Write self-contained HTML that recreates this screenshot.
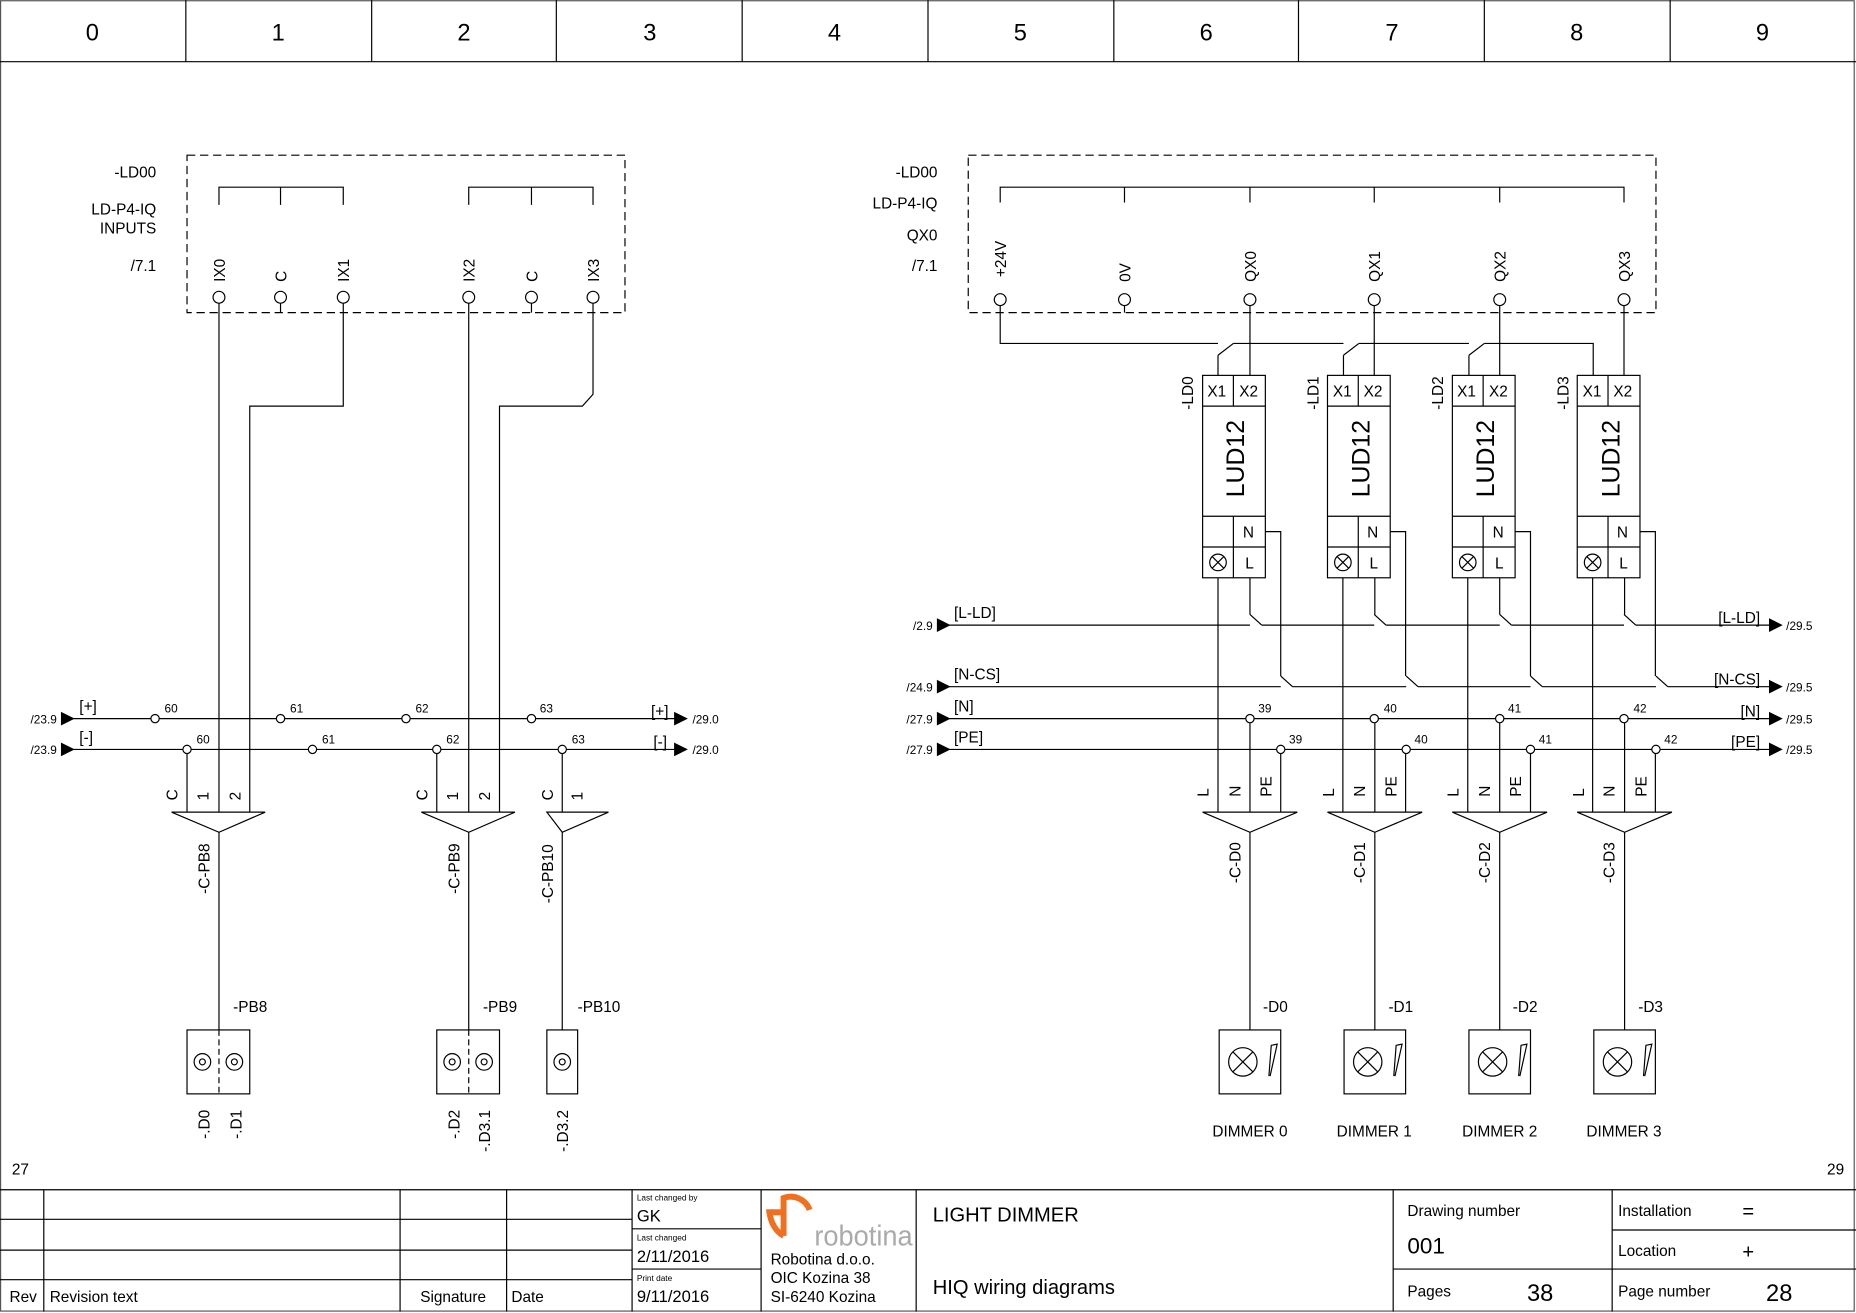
<!DOCTYPE html>
<html><head><meta charset="utf-8"><style>
html,body{margin:0;padding:0;background:#fff}
svg{display:block}
text{font-family:"Liberation Sans",sans-serif;fill:#000}
</style></head><body>
<svg width="1856" height="1313" viewBox="0 0 1568 1109" xmlns="http://www.w3.org/2000/svg">
<g fill="none" stroke="#000" stroke-width="1">
<rect x="0.5" y="0.5" width="1566" height="1107" stroke="#555"/>
<line x1="0" y1="52" x2="1568" y2="52"/>
<path d="M157 0V52M314 0V52M470 0V52M627 0V52M784 0V52M941 0V52M1097 0V52M1254 0V52M1411 0V52"/>
<path d="M0 1005H1568M37 1005V1108M338 1005V1108M428 1005V1108M534 1005V1108M643 1005V1108M774 1005V1108M1177 1005V1108M1362 1005V1108"/>
<path d="M0 1030H534M0 1056H534M0 1081H534M534 1038H643M534 1072H643M1177 1072H1568M1362 1039H1568"/>
<rect x="158" y="131" width="370" height="133" stroke-dasharray="7,4"/>
<path d="M185 173V158H290V173M237 158V173M396 173V158H501V173M449 158V173"/>
<g>
<circle cx="185" cy="251" r="5"/><circle cx="237" cy="251" r="5"/><circle cx="290" cy="251" r="5"/>
<circle cx="396" cy="251" r="5"/><circle cx="449" cy="251" r="5"/><circle cx="501" cy="251" r="5"/>
</g>
<path d="M237 256V264M449 256V264"/>
<path d="M185 256V686M290 256V343H211V686M396 256V686M501 256V333L492 343H422V686"/>
<path d="M62 607H570M62 633H570"/>
<path d="M158 633V686M369 633V686M475 633V686"/>
<path d="M145 686H224L185 703ZM356 686H435L396 703ZM462 686H514L475 703Z" fill="#fff"/>
<path d="M185 703V870M396 703V870M475 703V870"/>
<rect x="158" y="870" width="53" height="54"/>
<rect x="369" y="870" width="53" height="54"/>
<rect x="462" y="870" width="26" height="54"/>
<path d="M185 870V924M396 870V924" stroke-dasharray="5,3"/>
<circle cx="171" cy="897" r="7"/><circle cx="171" cy="897" r="2.5"/>
<circle cx="198" cy="897" r="7"/><circle cx="198" cy="897" r="2.5"/>
<circle cx="382" cy="897" r="7"/><circle cx="382" cy="897" r="2.5"/>
<circle cx="409" cy="897" r="7"/><circle cx="409" cy="897" r="2.5"/>
<circle cx="475" cy="897" r="7"/><circle cx="475" cy="897" r="2.5"/>
<rect x="818" y="131" width="581" height="133" stroke-dasharray="7,4"/>
<path d="M845 171V158H1372V171M950 158V171M1056 158V171M1161 158V171M1267 158V171"/>
<circle cx="845" cy="253" r="5"/><circle cx="950" cy="253" r="5"/><circle cx="1056" cy="253" r="5"/>
<circle cx="1161" cy="253" r="5"/><circle cx="1267" cy="253" r="5"/><circle cx="1372" cy="253" r="5"/>
<path d="M950 258V264"/>
<path d="M845 258V290H1029M1042 290H1135M1148 290H1241M1254 290H1346V317"/>
<path d="M1029 300L1042 290M1135 300L1148 290M1241 300L1254 290"/>
<path d="M1029 300V317M1135 300V317M1241 300V317"/>
<path d="M1056 258V317M1161 258V317M1267 258V317M1372 258V317"/>
<path d="M802 528H1056M1066 528H1161M1171 528H1267M1277 528H1372M1382 528H1495"/>
<path d="M802 580H1082M1092 580H1188M1198 580H1293M1303 580H1399M1409 580H1495"/>
<path d="M802 607H1495M802 633H1495"/>
<path d="M1056 519L1066 528M1161 519L1171 528M1267 519L1277 528M1372 519L1382 528"/>
<path d="M1082 571L1092 580M1188 571L1198 580M1293 571L1303 580M1399 571L1409 580"/>
<path d="M52 602L62 607L52 612ZM570 602L580 607L570 612ZM52 628L62 633L52 638ZM570 628L580 633L570 638Z" fill="#000"/>
<path d="M792 523L802 528L792 533ZM792 575L802 580L792 585ZM792 602L802 607L792 612ZM792 628L802 633L792 638ZM1495 523L1505 528L1495 533ZM1495 575L1505 580L1495 585ZM1495 602L1505 607L1495 612ZM1495 628L1505 633L1495 638Z" fill="#000"/>
</g>
<defs>
<g id="lud" fill="none" stroke="#000" stroke-width="1">
<rect x="1016" y="317" width="53" height="171" fill="#fff"/>
<path d="M1016 343H1069M1016 436H1069M1016 462H1069M1042 317V343M1042 436V488"/>
<circle cx="1029" cy="475" r="7"/>
<path d="M1024 470L1034 480M1034 470L1024 480"/>
<path d="M1069 449H1082V571M1056 488V519M1029 488V686M1056 607V686M1082 633V686"/>
<path d="M1016 686H1096L1056 703Z" fill="#fff"/>
<path d="M1056 703V870"/>
<rect x="1030" y="870" width="52" height="54"/>
<circle cx="1050" cy="897" r="12"/>
<path d="M1041.5 888.5L1058.5 905.5M1058.5 888.5L1041.5 905.5"/>
<path d="M1072 909L1074 883L1079 882L1073 909"/>
</g>
</defs>
<use href="#lud"/>
<use href="#lud" x="105.5"/>
<use href="#lud" x="211"/>
<use href="#lud" x="316.5"/>
<g fill="#fff" stroke="#000" stroke-width="1">
<circle cx="131" cy="607" r="3.5"/><circle cx="237" cy="607" r="3.5"/><circle cx="343" cy="607" r="3.5"/><circle cx="449" cy="607" r="3.5"/>
<circle cx="158" cy="633" r="3.5"/><circle cx="264" cy="633" r="3.5"/><circle cx="369" cy="633" r="3.5"/><circle cx="475" cy="633" r="3.5"/>
<circle cx="1056" cy="607" r="3.5"/><circle cx="1161" cy="607" r="3.5"/><circle cx="1267" cy="607" r="3.5"/><circle cx="1372" cy="607" r="3.5"/>
<circle cx="1082" cy="633" r="3.5"/><circle cx="1188" cy="633" r="3.5"/><circle cx="1293" cy="633" r="3.5"/><circle cx="1399" cy="633" r="3.5"/>
</g>
<g font-size="20" text-anchor="middle">
<text x="78" y="34">0</text><text x="235" y="34">1</text><text x="392" y="34">2</text><text x="549" y="34">3</text><text x="705" y="34">4</text>
<text x="862" y="34">5</text><text x="1019" y="34">6</text><text x="1176" y="34">7</text><text x="1332" y="34">8</text><text x="1489" y="34">9</text>
</g>
<g font-size="13" text-anchor="end">
<text x="132" y="150">-LD00</text><text x="132" y="181">LD-P4-IQ</text><text x="132" y="197">INPUTS</text><text x="132" y="229">/7.1</text>
<text x="792" y="150">-LD00</text><text x="792" y="176">LD-P4-IQ</text><text x="792" y="203">QX0</text><text x="792" y="229">/7.1</text>
</g>
<g font-size="13">
<text transform="translate(190,238) rotate(-90)">IX0</text>
<text transform="translate(242,238) rotate(-90)">C</text>
<text transform="translate(295,238) rotate(-90)">IX1</text>
<text transform="translate(401,238) rotate(-90)">IX2</text>
<text transform="translate(454,238) rotate(-90)">C</text>
<text transform="translate(506,238) rotate(-90)">IX3</text>
<text transform="translate(850,234) rotate(-90)">+24V</text>
<text transform="translate(955,238) rotate(-90)">0V</text>
<text transform="translate(1061,238) rotate(-90)">QX0</text>
<text transform="translate(1166,238) rotate(-90)">QX1</text>
<text transform="translate(1272,238) rotate(-90)">QX2</text>
<text transform="translate(1377,238) rotate(-90)">QX3</text>
</g>
<g font-size="10">
<text x="48" y="611" text-anchor="end">/23.9</text><text x="48" y="637" text-anchor="end">/23.9</text>
<text x="585" y="611">/29.0</text><text x="585" y="637">/29.0</text>
<text x="788" y="532" text-anchor="end">/2.9</text><text x="788" y="584" text-anchor="end">/24.9</text>
<text x="788" y="611" text-anchor="end">/27.9</text><text x="788" y="637" text-anchor="end">/27.9</text>
<text x="1509" y="532">/29.5</text><text x="1509" y="584">/29.5</text><text x="1509" y="611">/29.5</text><text x="1509" y="637">/29.5</text>
<text x="139" y="602">60</text><text x="245" y="602">61</text><text x="351" y="602">62</text><text x="456" y="602">63</text>
<text x="166" y="628">60</text><text x="272" y="628">61</text><text x="377" y="628">62</text><text x="483" y="628">63</text>
<text x="1063" y="602">39</text><text x="1169" y="602">40</text><text x="1274" y="602">41</text><text x="1380" y="602">42</text>
<text x="1089" y="628">39</text><text x="1195" y="628">40</text><text x="1300" y="628">41</text><text x="1406" y="628">42</text>
</g>
<g font-size="13">
<text x="67" y="601">[+]</text><text x="67" y="627">[-]</text>
<text x="550" y="605">[+]</text><text x="552" y="631">[-]</text>
<text x="806" y="522">[L-LD]</text><text x="806" y="574">[N-CS]</text><text x="806" y="601">[N]</text><text x="806" y="627">[PE]</text>
<text x="1487" y="526" text-anchor="end">[L-LD]</text><text x="1487" y="578" text-anchor="end">[N-CS]</text>
<text x="1487" y="605" text-anchor="end">[N]</text><text x="1487" y="631" text-anchor="end">[PE]</text>
</g>
<g font-size="13">
<text transform="translate(150,676) rotate(-90)">C</text>
<text transform="translate(176,676) rotate(-90)">1</text>
<text transform="translate(203,676) rotate(-90)">2</text>
<text transform="translate(361,676) rotate(-90)">C</text>
<text transform="translate(387,676) rotate(-90)">1</text>
<text transform="translate(414,676) rotate(-90)">2</text>
<text transform="translate(467,676) rotate(-90)">C</text>
<text transform="translate(492,676) rotate(-90)">1</text>
<text transform="translate(177,755) rotate(-90)">-C-PB8</text>
<text transform="translate(388,755) rotate(-90)">-C-PB9</text>
<text transform="translate(467,763) rotate(-90)">-C-PB10</text>
<text x="197" y="855">-PB8</text><text x="408" y="855">-PB9</text><text x="488" y="855">-PB10</text>
<text transform="translate(177,962) rotate(-90)">-.D0</text>
<text transform="translate(204,962) rotate(-90)">-.D1</text>
<text transform="translate(388,962) rotate(-90)">-.D2</text>
<text transform="translate(414,973) rotate(-90)">-.D3.1</text>
<text transform="translate(480,973) rotate(-90)">-.D3.2</text>
<text x="10" y="992">27</text><text x="1558" y="992" text-anchor="end">29</text>
</g>
<g font-size="13">
<text transform="translate(1008,346) rotate(-90)">-LD0</text>
<text transform="translate(1114,346) rotate(-90)">-LD1</text>
<text transform="translate(1219,346) rotate(-90)">-LD2</text>
<text transform="translate(1325,346) rotate(-90)">-LD3</text>
<text x="1020" y="335">X1</text><text x="1047" y="335">X2</text>
<text x="1126" y="335">X1</text><text x="1152" y="335">X2</text>
<text x="1231" y="335">X1</text><text x="1258" y="335">X2</text>
<text x="1337" y="335">X1</text><text x="1363" y="335">X2</text>
<text x="1050" y="454">N</text><text x="1052" y="480">L</text>
<text x="1155" y="454">N</text><text x="1157" y="480">L</text>
<text x="1261" y="454">N</text><text x="1263" y="480">L</text>
<text x="1366" y="454">N</text><text x="1368" y="480">L</text>
</g>
<g font-size="21">
<text transform="translate(1051,420) rotate(-90)">LUD12</text>
<text transform="translate(1157,420) rotate(-90)">LUD12</text>
<text transform="translate(1262,420) rotate(-90)">LUD12</text>
<text transform="translate(1368,420) rotate(-90)">LUD12</text>
</g>
<g font-size="13">
<text transform="translate(1021,673) rotate(-90)">L</text><text transform="translate(1048,673) rotate(-90)">N</text><text transform="translate(1074,673) rotate(-90)">PE</text>
<text transform="translate(1127,673) rotate(-90)">L</text><text transform="translate(1153,673) rotate(-90)">N</text><text transform="translate(1180,673) rotate(-90)">PE</text>
<text transform="translate(1232,673) rotate(-90)">L</text><text transform="translate(1259,673) rotate(-90)">N</text><text transform="translate(1285,673) rotate(-90)">PE</text>
<text transform="translate(1338,673) rotate(-90)">L</text><text transform="translate(1364,673) rotate(-90)">N</text><text transform="translate(1391,673) rotate(-90)">PE</text>
<text transform="translate(1048,746) rotate(-90)">-C-D0</text>
<text transform="translate(1153,746) rotate(-90)">-C-D1</text>
<text transform="translate(1259,746) rotate(-90)">-C-D2</text>
<text transform="translate(1364,746) rotate(-90)">-C-D3</text>
<text x="1067" y="855">-D0</text><text x="1173" y="855">-D1</text><text x="1278" y="855">-D2</text><text x="1384" y="855">-D3</text>
<text x="1056" y="960" text-anchor="middle">DIMMER 0</text><text x="1161" y="960" text-anchor="middle">DIMMER 1</text>
<text x="1267" y="960" text-anchor="middle">DIMMER 2</text><text x="1372" y="960" text-anchor="middle">DIMMER 3</text>
</g>
<g font-size="13">
<text x="8" y="1100">Rev</text><text x="42" y="1100">Revision text</text><text x="355" y="1100">Signature</text><text x="432" y="1100">Date</text>
<text x="538" y="1032" font-size="14">GK</text><text x="538" y="1066" font-size="14">2/11/2016</text><text x="538" y="1100" font-size="14">9/11/2016</text>
<text x="651" y="1068">Robotina d.o.o.</text><text x="651" y="1084">OIC Kozina 38</text><text x="651" y="1100">SI-6240 Kozina</text>
<text x="788" y="1032" font-size="17">LIGHT DIMMER</text><text x="788" y="1093" font-size="17">HIQ wiring diagrams</text>
<text x="1189" y="1027">Drawing number</text><text x="1189" y="1059" font-size="19">001</text>
<text x="1189" y="1095">Pages</text><text x="1290" y="1099" font-size="20">38</text>
<text x="1367" y="1027">Installation</text><text x="1472" y="1029" font-size="17">=</text>
<text x="1367" y="1061">Location</text><text x="1472" y="1063" font-size="17">+</text>
<text x="1367" y="1095">Page number</text><text x="1492" y="1099" font-size="20">28</text>
</g>
<g font-size="7">
<text x="538" y="1014">Last changed by</text><text x="538" y="1048">Last changed</text><text x="538" y="1082">Print date</text>
</g>
<path d="M684 1022A17 17 0 0 0 662 1012L662 1044M662 1024L650 1024Q652 1038 662 1044" fill="none" stroke="#f07020" stroke-width="5"/>
<text x="688" y="1052" font-size="24" style="fill:#aaa" textLength="83" lengthAdjust="spacingAndGlyphs">robotina</text>
</svg>
</body></html>
